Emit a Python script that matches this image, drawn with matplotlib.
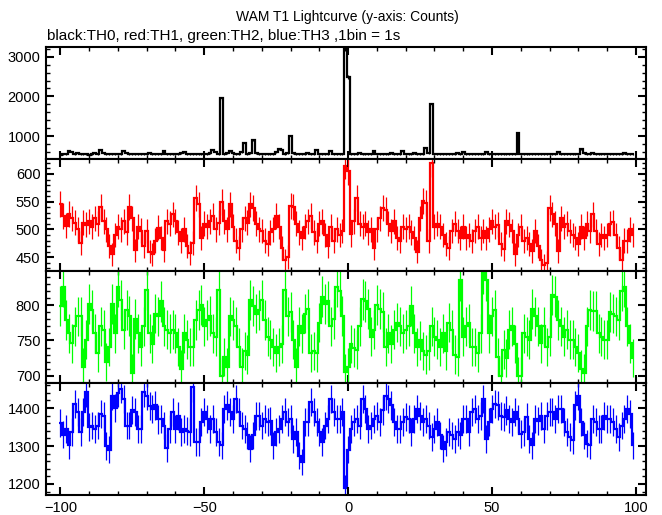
import numpy as np
import matplotlib
matplotlib.use("Agg")
import matplotlib.pyplot as plt
from matplotlib.ticker import MultipleLocator

plt.rcParams['font.family'] = ['Liberation Sans', 'DejaVu Sans']

title = "WAM T1 Lightcurve (y-axis: Counts)"
subtitle = "black:TH0, red:TH1, green:TH2, blue:TH3 ,1bin = 1s"

time_sec = np.arange(-100, 100)  # bin centres, 1 s bins

th0 = [
    530, 545, 540, 620, 600, 545, 560, 535, 540, 550,
    530, 545, 560, 550, 650, 570, 545, 540, 535, 545,
    540, 550, 630, 560, 540, 545, 535, 550, 545, 540,
    550, 560, 540, 545, 535, 550, 630, 545, 540, 555,
    540, 545, 560, 590, 550, 545, 540, 535, 550, 540,
    545, 540, 560, 650, 600, 545, 1950, 545, 560, 620,
    560, 545, 550, 600, 815, 545, 570, 900, 560, 550,
    545, 540, 535, 545, 550, 600, 670, 650, 555, 560,
    1000, 560, 545, 540, 550, 545, 560, 540, 545, 640,
    545, 550, 540, 545, 630, 550, 545, 540, 555, 3200,
    2500, 550, 545, 540, 560, 545, 550, 540, 545, 630,
    545, 540, 550, 545, 540, 560, 545, 550, 540, 610,
    550, 545, 540, 560, 545, 550, 545, 700, 560, 1800,
    550, 545, 540, 555, 545, 540, 550, 545, 560, 540,
    600, 545, 550, 540, 545, 555, 540, 550, 590, 545,
    540, 550, 545, 540, 555, 545, 540, 550, 545, 1070,
    545, 550, 540, 545, 555, 540, 550, 545, 540, 550,
    545, 540, 555, 600, 545, 540, 550, 545, 540, 555,
    545, 670, 560, 545, 540, 580, 545, 550, 540, 545,
    550, 545, 540, 555, 545, 540, 560, 545, 550, 540,
]

th1 = [
    546, 524, 507, 528, 520, 512, 500, 475, 512, 508,
    515, 505, 520, 510, 540, 515, 500, 470, 455, 490,
    505, 500, 515, 495, 540, 520, 462, 505, 498, 470,
    497, 460, 455, 480, 503, 485, 462, 515, 510, 527,
    515, 495, 480, 500, 470, 458, 475, 557, 545, 485,
    510, 505, 515, 524, 500, 512, 550, 515, 500, 545,
    505, 480, 467, 500, 520, 512, 545, 539, 510, 500,
    497, 480, 473, 495, 500, 524, 505, 467, 444, 450,
    542, 540, 510, 495, 485, 505, 515, 524, 495, 480,
    510, 515, 490, 470, 505, 480, 500, 490, 497, 615,
    605, 491, 515, 556, 510, 505, 510, 495, 500, 467,
    500, 520, 539, 535, 510, 497, 515, 485, 479, 505,
    500, 505, 495, 485, 460, 520, 551, 548, 479, 620,
    505, 510, 505, 490, 473, 467, 497, 510, 497, 485,
    505, 485, 490, 479, 497, 505, 485, 497, 485, 500,
    515, 505, 508, 473, 465, 515, 508, 497, 455, 490,
    505, 479, 485, 473, 461, 497, 470, 444, 435, 440,
    539, 527, 510, 461, 520, 505, 510, 497, 490, 485,
    473, 505, 485, 510, 497, 527, 497, 473, 490, 485,
    490, 510, 513, 490, 467, 444, 480, 479, 500, 490,
]

th2 = [
    798, 826, 779, 760, 746, 770, 784, 784, 713, 751,
    802, 793, 760, 732, 770, 765, 720, 741, 802, 760,
    826, 807, 765, 793, 785, 704, 780, 760, 741, 770,
    821, 760, 745, 788, 784, 805, 770, 765, 760, 765,
    760, 741, 710, 760, 751, 741, 741, 779, 793, 800,
    770, 779, 785, 760, 755, 821, 700, 727, 713, 784,
    779, 770, 741, 713, 735, 730, 807, 798, 788, 793,
    807, 779, 755, 751, 741, 732, 741, 745, 821, 784,
    790, 751, 713, 770, 760, 788, 795, 732, 735, 732,
    775, 812, 802, 805, 770, 780, 826, 820, 785, 705,
    712, 745, 740, 737, 770, 808, 805, 795, 755, 765,
    800, 795, 790, 741, 760, 745, 765, 775, 770, 760,
    765, 770, 798, 760, 741, 750, 735, 730, 735, 770,
    755, 751, 741, 760, 735, 775, 765, 730, 727, 835,
    755, 770, 774, 741, 741, 732, 760, 845, 835, 760,
    784, 793, 727, 700, 737, 725, 765, 770, 745, 700,
    700, 760, 755, 751, 795, 784, 770, 746, 770, 741,
    755, 814, 812, 779, 770, 755, 765, 751, 751, 741,
    732, 710, 704, 770, 793, 791, 791, 760, 755, 751,
    751, 790, 788, 784, 779, 820, 826, 770, 746, 725,
]

th3 = [
    1360, 1330, 1345, 1302, 1337, 1411, 1389, 1337, 1389, 1442,
    1350, 1354, 1345, 1354, 1385, 1380, 1300, 1290, 1433, 1400,
    1440, 1451, 1424, 1354, 1354, 1395, 1389, 1345, 1345, 1442,
    1433, 1405, 1398, 1407, 1370, 1372, 1354, 1295, 1345, 1389,
    1345, 1380, 1337, 1345, 1340, 1337, 1455, 1310, 1310, 1363,
    1389, 1372, 1345, 1372, 1337, 1310, 1302, 1398, 1407, 1389,
    1372, 1424, 1389, 1354, 1345, 1328, 1293, 1328, 1380, 1380,
    1354, 1372, 1363, 1367, 1302, 1337, 1345, 1372, 1389, 1363,
    1372, 1319, 1337, 1275, 1258, 1363, 1363, 1416, 1389, 1363,
    1337, 1310, 1354, 1372, 1424, 1389, 1372, 1372, 1389, 1190,
    1290, 1345, 1363, 1372, 1354, 1424, 1398, 1345, 1354, 1372,
    1380, 1363, 1394, 1433, 1424, 1407, 1363, 1345, 1345, 1363,
    1376, 1372, 1337, 1372, 1398, 1380, 1363, 1372, 1354, 1324,
    1345, 1363, 1328, 1293, 1310, 1337, 1328, 1319, 1337, 1328,
    1372, 1372, 1337, 1389, 1398, 1372, 1380, 1424, 1319, 1363,
    1398, 1411, 1407, 1380, 1376, 1394, 1372, 1363, 1389, 1372,
    1332, 1337, 1376, 1319, 1302, 1372, 1367, 1380, 1345, 1380,
    1389, 1389, 1372, 1398, 1398, 1363, 1337, 1324, 1315, 1407,
    1433, 1363, 1328, 1306, 1302, 1372, 1363, 1345, 1345, 1380,
    1372, 1372, 1363, 1345, 1324, 1354, 1372, 1398, 1385, 1302,
]

series = [th0, th1, th2, th3]
colors = ["#000000", "#ff0000", "#00ff00", "#0000ff"]
ylims = [(420, 3245), (425, 627), (690, 848), (1171, 1466)]
ymajor = [1000, 50, 50, 100]
yminor = [200, 10, 10, 20]

W, H = 662, 515
fig = plt.figure(figsize=(W / 100, H / 100), dpi=100)

x0, x1 = 46, 646
ytop, ph = 47, 112
edges = np.append(time_sec - 0.5, time_sec[-1] + 0.5)

for k, (vals, col) in enumerate(zip(series, colors)):
    top = ytop + ph * k
    ax = fig.add_axes([x0 / W, 1 - (top + ph) / H, (x1 - x0) / W, ph / H])
    v = np.array(vals, dtype=float)
    ax.errorbar(time_sec, v, yerr=np.sqrt(v), fmt='none', ecolor=col,
                elinewidth=0.9, capsize=0)
    ax.stairs(v, edges, baseline=None, color=col, lw=1.6)
    ax.set_xlim(-105, 103.5)
    ax.set_ylim(*ylims[k])
    ax.xaxis.set_major_locator(MultipleLocator(50))
    ax.xaxis.set_minor_locator(MultipleLocator(10))
    ax.yaxis.set_major_locator(MultipleLocator(ymajor[k]))
    ax.yaxis.set_minor_locator(MultipleLocator(yminor[k]))
    ax.tick_params(which='both', direction='in', top=True, right=True,
                   labelbottom=(k == 3), labelsize=10.5, pad=4)
    ax.tick_params(which='major', length=6, width=1.5)
    ax.tick_params(which='minor', length=3, width=1.0)
    for s in ax.spines.values():
        s.set_linewidth(1.5)

fig.text(347 / W, 1 - 17 / H, title, ha='center', va='center', fontsize=10)
fig.text(47 / W, 1 - 36 / H, subtitle, ha='left', va='center', fontsize=11)

fig.savefig("out.png", dpi=100)
